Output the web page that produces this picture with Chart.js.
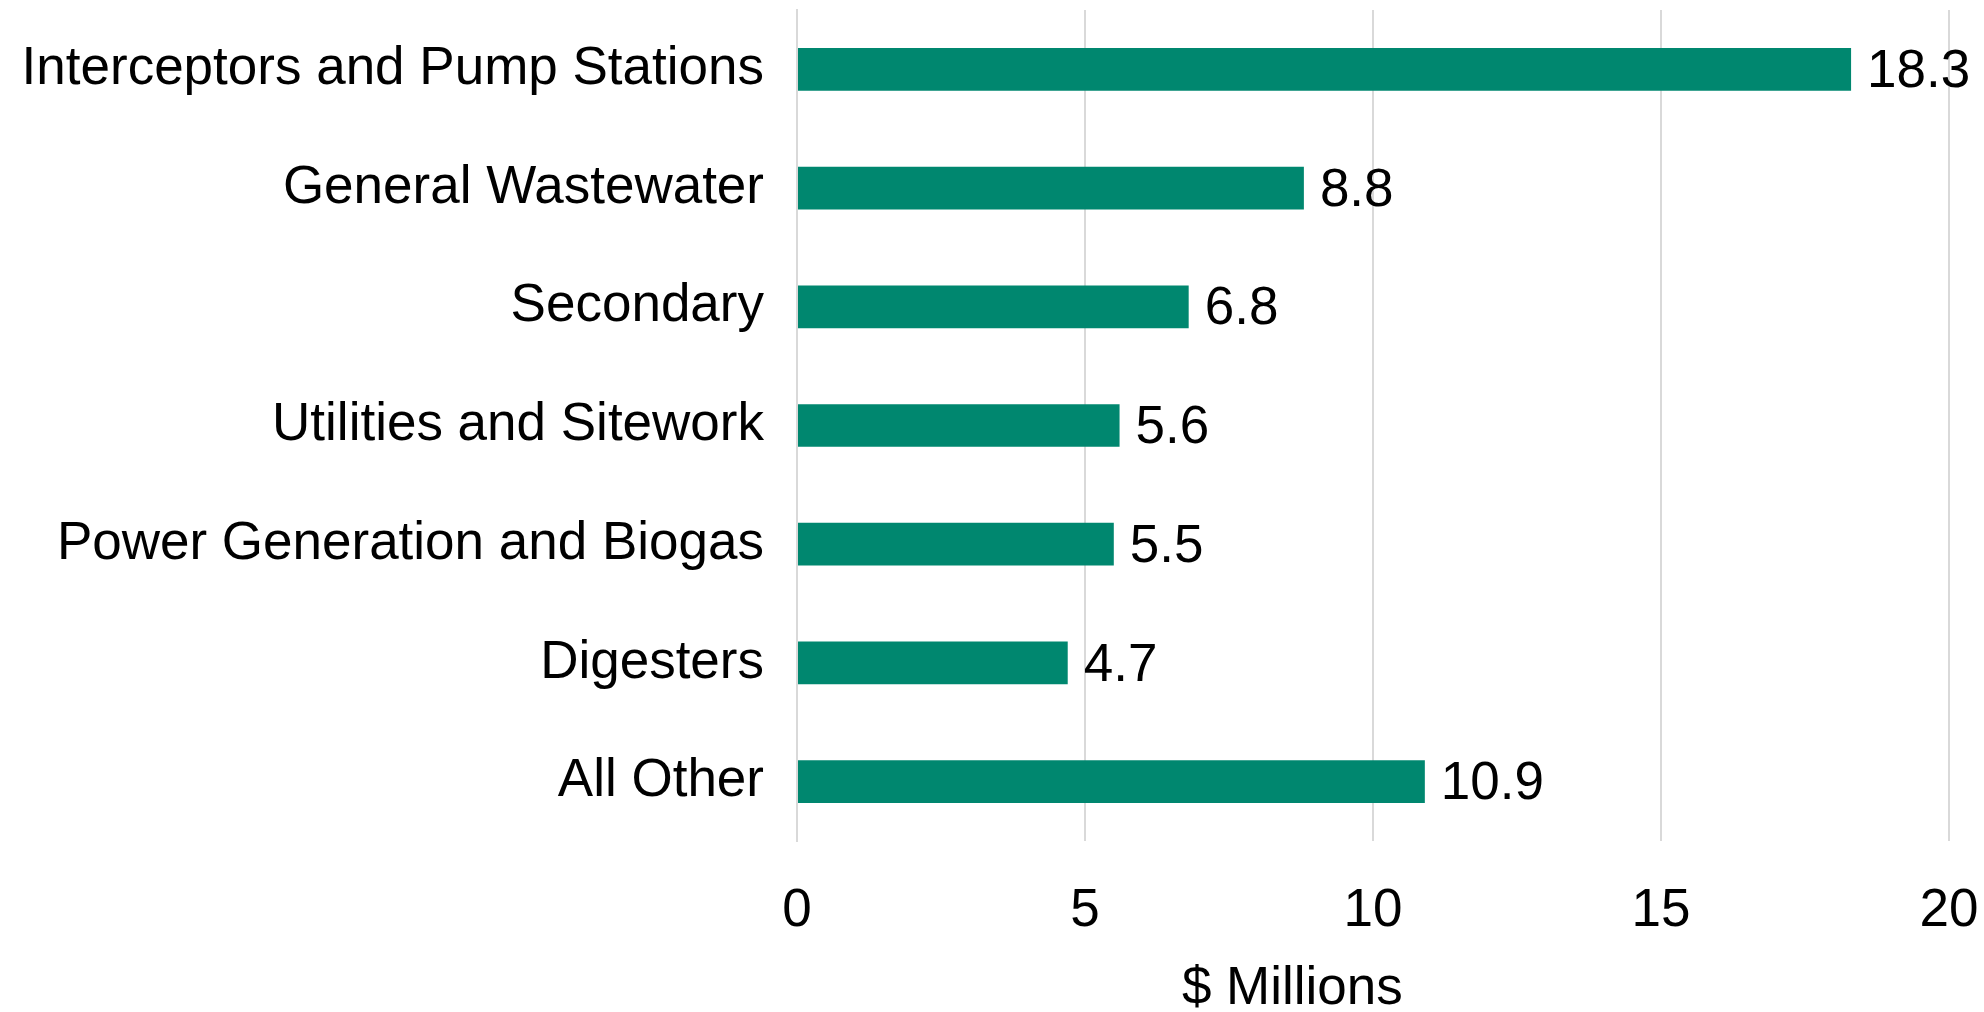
<!DOCTYPE html>
<html>
<head>
<meta charset="utf-8">
<script src="https://cdn.jsdelivr.net/npm/chart.js@4"></script>
<style>
html, body { margin: 0; padding: 0; background: #fff; }
#wrap { width: 1984px; height: 1012px; }
</style>
</head>
<body>
<div id="wrap"><canvas id="chart" width="1984" height="1012"></canvas></div>
<script>
// categories and values ($ millions)
const categories = [
"Interceptors and Pump Stations",
"General Wastewater",
"Secondary",
"Utilities and Sitework",
"Power Generation and Biogas",
"Digesters",
"All Other"
];

const values = [18.3, 8.8, 6.8, 5.6, 5.5, 4.7, 10.9];

const xTicks = [0, 5, 10, 15, 20];

const axisTitle = "$ Millions";

const font = "Liberation Sans, Arial, sans-serif";

// value labels at the end of each bar
const barLabels = {
id: "barLabels",
afterDatasetsDraw(chart){
const ctx = chart.ctx;
const meta = chart.getDatasetMeta(0);
ctx.save();
ctx.font = "53px " + font;
ctx.fillStyle = "#000";
ctx.textAlign = "left";
ctx.textBaseline = "middle";
meta.data.forEach(function(bar, i){
ctx.fillText(values[i].toFixed(1), bar.x + 16, bar.y + 3);
});
ctx.restore();
}
};

// x axis title, sits a bit left of the plot centre like the original
const xTitle = {
id: "xTitle",
afterDraw(chart){
const ctx = chart.ctx;
const area = chart.chartArea;
ctx.save();
ctx.font = "53px " + font;
ctx.fillStyle = "#000";
ctx.textAlign = "center";
ctx.textBaseline = "middle";
ctx.fillText(axisTitle, area.left + (area.right - area.left) * 0.43, chart.height - 23);
ctx.restore();
}
};

// fixed axis boxes, no automatic padding around the scales
function noPad(axis){
axis.paddingTop = 0;
axis.paddingBottom = 0;
axis.paddingLeft = 0;
axis.paddingRight = 0;
}

new Chart(document.getElementById("chart"), {
type: "bar",
data: {
labels: categories,
datasets: [{
data: values,
backgroundColor: "#00876F",
barPercentage: 0.36,
categoryPercentage: 1
}]
},
options: {
indexAxis: "y",
responsive: false,
animation: false,
layout: { padding: { left: 0, right: 35, top: 10, bottom: 0 } },
plugins: {
legend: { display: false },
tooltip: { enabled: false }
},
scales: {
x: {
min: 0,
max: 20,
afterBuildTicks(axis){
axis.ticks = xTicks.map(function(v){ return { value: v }; });
},
afterFit(axis){
noPad(axis);
axis.height = 171;
},
grid: { color: "#d9d9d9", lineWidth: 2, drawTicks: false },
border: { display: false },
ticks: { color: "#000", font: { family: font, size: 53 }, padding: 39, maxRotation: 0 }
},
y: {
afterFit(axis){
noPad(axis);
axis.width = 797;
},
grid: { display: false, drawTicks: false },
border: { display: true, color: "#d9d9d9", width: 2 },
ticks: { color: "#000", font: { family: font, size: 53 }, padding: 33 }
}
}
},
plugins: [barLabels, xTitle]
});
</script>
</body>
</html>
